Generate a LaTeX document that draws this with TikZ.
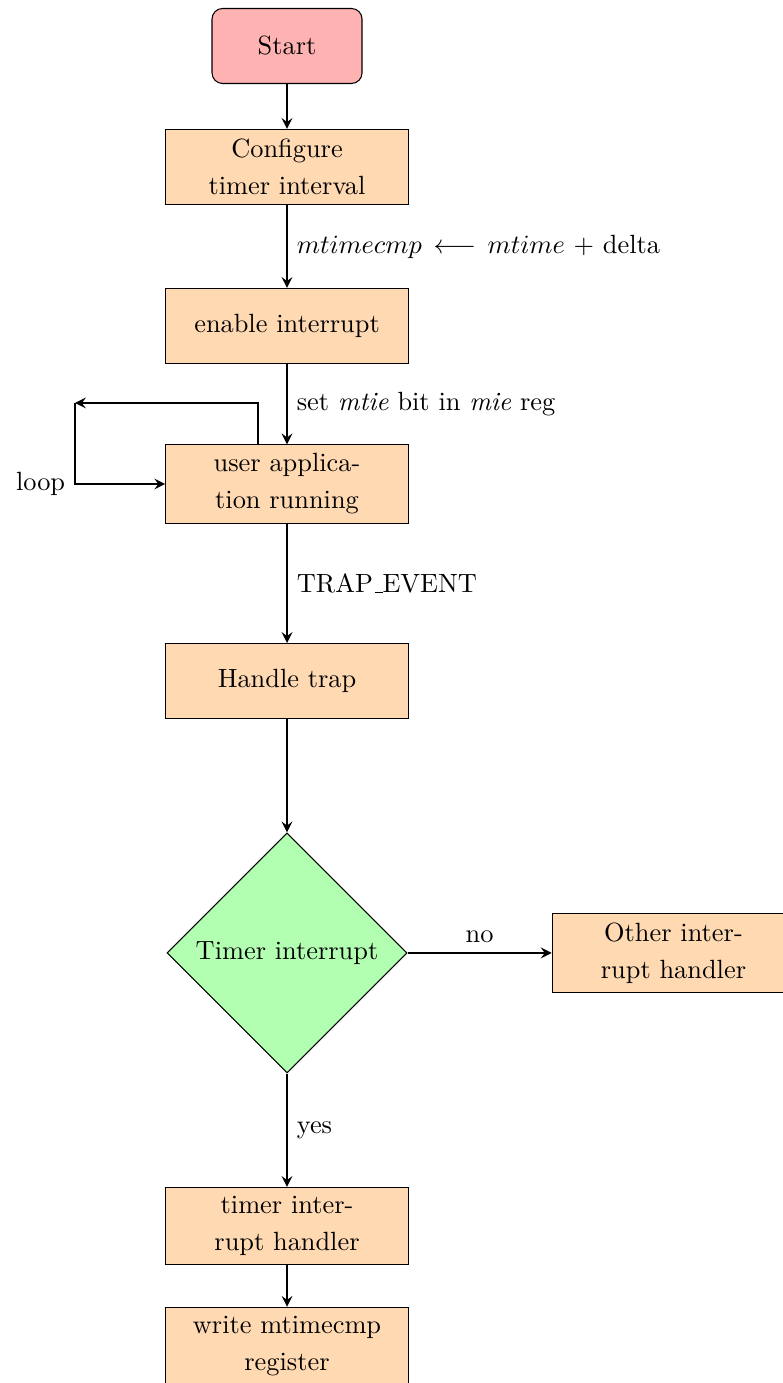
\documentclass[tikz,border=0pt]{standalone}
\usepackage{amsmath}
\usepackage{tikz}
\usetikzlibrary{arrows.meta, shapes.geometric}
\linespread{1.17}

\begin{document}
\begin{tikzpicture}[
    thick, >=stealth,
    startbox/.style={rectangle, rounded corners, minimum width=2cm, minimum height=1cm,
      align=center, draw=black, thin, fill=red!30},
    procbox/.style={rectangle, minimum width=3cm, minimum height=1cm, text width=3cm,
      align=center, draw=black, thin, fill=orange!30},
    decbox/.style={diamond, minimum width=3.2cm, minimum height=3.2cm, inner sep=0pt,
      align=center, draw=black, thin, fill=green!30},
    arr/.style={thick, ->}
  ]
  \useasboundingbox (-3.827,0.613) rectangle (6.6,-17.827);
  % main column
  \node[startbox] (st) at (0,0) {Start};
  \node[procbox] (cfg) at (0,-1.613) {Configure timer interval};
  \node[procbox] (en) at (0,-3.733) {enable interrupt};
  \node[procbox] (app) at (0,-5.84) {user application running};
  \node[procbox] (trap) at (0,-8.467) {Handle trap};
  \node[decbox] (tmr) at (0,-12.093) {Timer interrupt};
  \node[procbox] (oth) at (5.153,-12.093) {Other interrupt handler};
  \node[procbox] (th) at (0,-15.733) {timer interrupt handler};
  \node[procbox] (wr) at (0,-17.333) {write mtimecmp register};
  % connectors
  \draw[arr] (st) -- (cfg);
  \draw[arr] (cfg) -- node[right] {$mtimecmp \,\longleftarrow\, mtime$ + delta} (en);
  \draw[arr] (en) -- node[right] {set \textit{mtie} bit in \textit{mie} reg} (app);
  \draw[arr] (app) -- node[right] {TRAP\kern.06em\rule[-0.2pt]{0.3em}{0.4pt}EVENT} (trap);
  \draw[arr] (trap) -- (tmr);
  \draw[arr] (tmr) -- node[above] {no} (oth);
  \draw[arr] (tmr) -- node[right] {yes} (th);
  \draw[arr] (th) -- (wr);
  % loop back into the application
  \coordinate (lp) at (-2.827,-4.76);
  \draw[arr] ([xshift=-0.39cm]app.north) |- (lp);
  \draw[arr] (lp) |- node[pos=0.5, left] {loop} (app.west);
\end{tikzpicture}
\end{document}
